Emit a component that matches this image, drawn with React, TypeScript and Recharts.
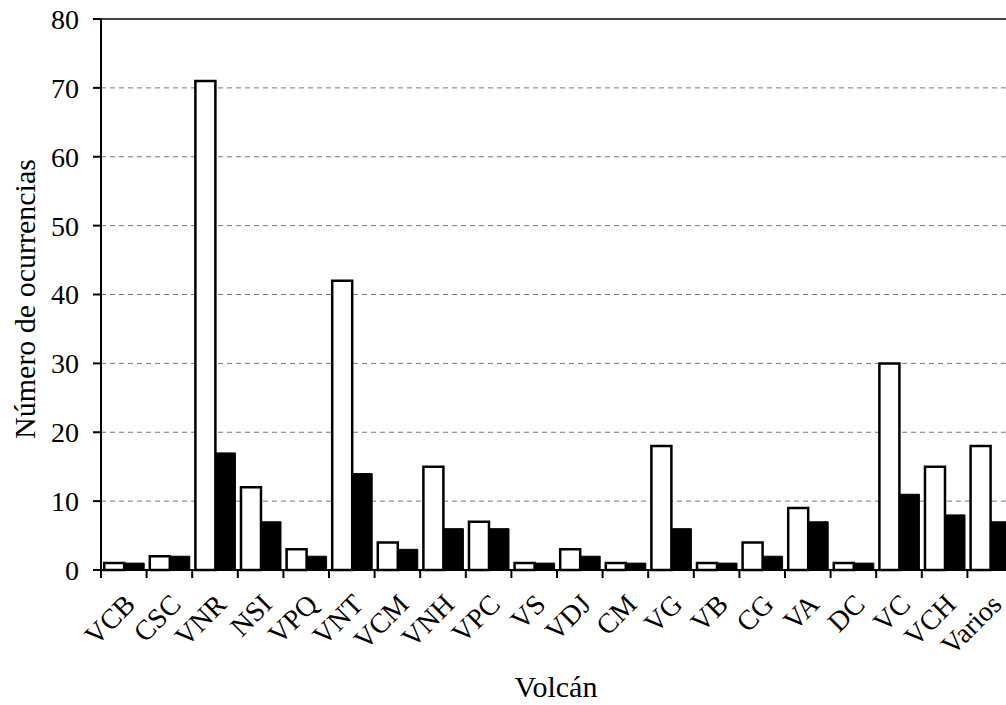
import React from "react";
import { BarChart, Bar, XAxis, YAxis, CartesianGrid, ReferenceLine } from "recharts";

const volcanes = [
  "VCB", "CSC", "VNR", "NSI", "VPQ", "VNT", "VCM", "VNH", "VPC", "VS",
  "VDJ", "CM", "VG", "VB", "CG", "VA", "DC", "VC", "VCH", "Varios",
];
const serieBlanca = [1, 2, 71, 12, 3, 42, 4, 15, 7, 1, 3, 1, 18, 1, 4, 9, 1, 30, 15, 18];
const serieNegra = [1, 2, 17, 7, 2, 14, 3, 6, 6, 1, 2, 1, 6, 1, 2, 7, 1, 11, 8, 7];
const yTicks = [0, 10, 20, 30, 40, 50, 60, 70, 80];

const data = volcanes.map((v, i) => ({ v, a: serieBlanca[i], b: serieNegra[i] }));

const FONT = "'Liberation Serif', 'Times New Roman', serif";

// tick lines sit on the category boundaries, labels rotated under the centre
const XTick = (props: any) => {
  const { x, y, payload } = props;
  const half = payload?.offset ?? 22.8;
  const tx = x + 13;
  const ty = y + 36;
  return (
    <g>
      <line x1={x - half} x2={x - half} y1={y} y2={y + 8} stroke="#000" strokeWidth={2} />
      <text
        x={tx}
        y={ty}
        transform={`rotate(-45 ${tx} ${ty})`}
        textAnchor="end"
        fontSize={28}
        fontFamily={FONT}
        fill="#000"
      >
        {payload.value}
      </text>
    </g>
  );
};

export default function App() {
  return (
    <div
      style={{
        position: "absolute",
        left: 0,
        top: 0,
        width: 1006,
        height: 705,
        overflow: "hidden",
        background: "#fff",
        fontFamily: FONT,
      }}
    >
      <BarChart
        width={1030}
        height={705}
        data={data}
        margin={{ top: 19, right: 17, bottom: 0, left: 0 }}
        barCategoryGap="7%"
        barGap={0}
      >
        <CartesianGrid vertical={false} stroke="#777" strokeDasharray="5 4" />
        <ReferenceLine y={80} stroke="#444" strokeWidth={2} />
        <XAxis
          dataKey="v"
          height={135}
          interval={0}
          tickLine={false}
          tickSize={0}
          tickMargin={0}
          axisLine={{ stroke: "#000", strokeWidth: 2 }}
          tick={<XTick />}
        />
        <YAxis
          width={101}
          domain={[0, 80]}
          ticks={yTicks}
          interval={0}
          tickSize={8}
          tickMargin={14}
          axisLine={{ stroke: "#000", strokeWidth: 2 }}
          tickLine={{ stroke: "#000", strokeWidth: 2 }}
          tick={{ fontSize: 28, fontFamily: FONT, fill: "#000" }}
        />
        <Bar dataKey="a" fill="#fff" stroke="#000" strokeWidth={2.5} isAnimationActive={false} />
        <Bar dataKey="b" fill="#000" stroke="#000" strokeWidth={1} isAnimationActive={false} />
      </BarChart>
      <div
        style={{
          position: "absolute",
          left: 25,
          top: 299,
          transform: "translate(-50%, -50%) rotate(-90deg)",
          fontSize: 30,
          lineHeight: 1,
          whiteSpace: "nowrap",
        }}
      >
        Número de ocurrencias
      </div>
      <div
        style={{
          position: "absolute",
          left: 556,
          top: 687,
          transform: "translate(-50%, -50%)",
          fontSize: 30,
          lineHeight: 1,
          whiteSpace: "nowrap",
        }}
      >
        Volcán
      </div>
    </div>
  );
}
